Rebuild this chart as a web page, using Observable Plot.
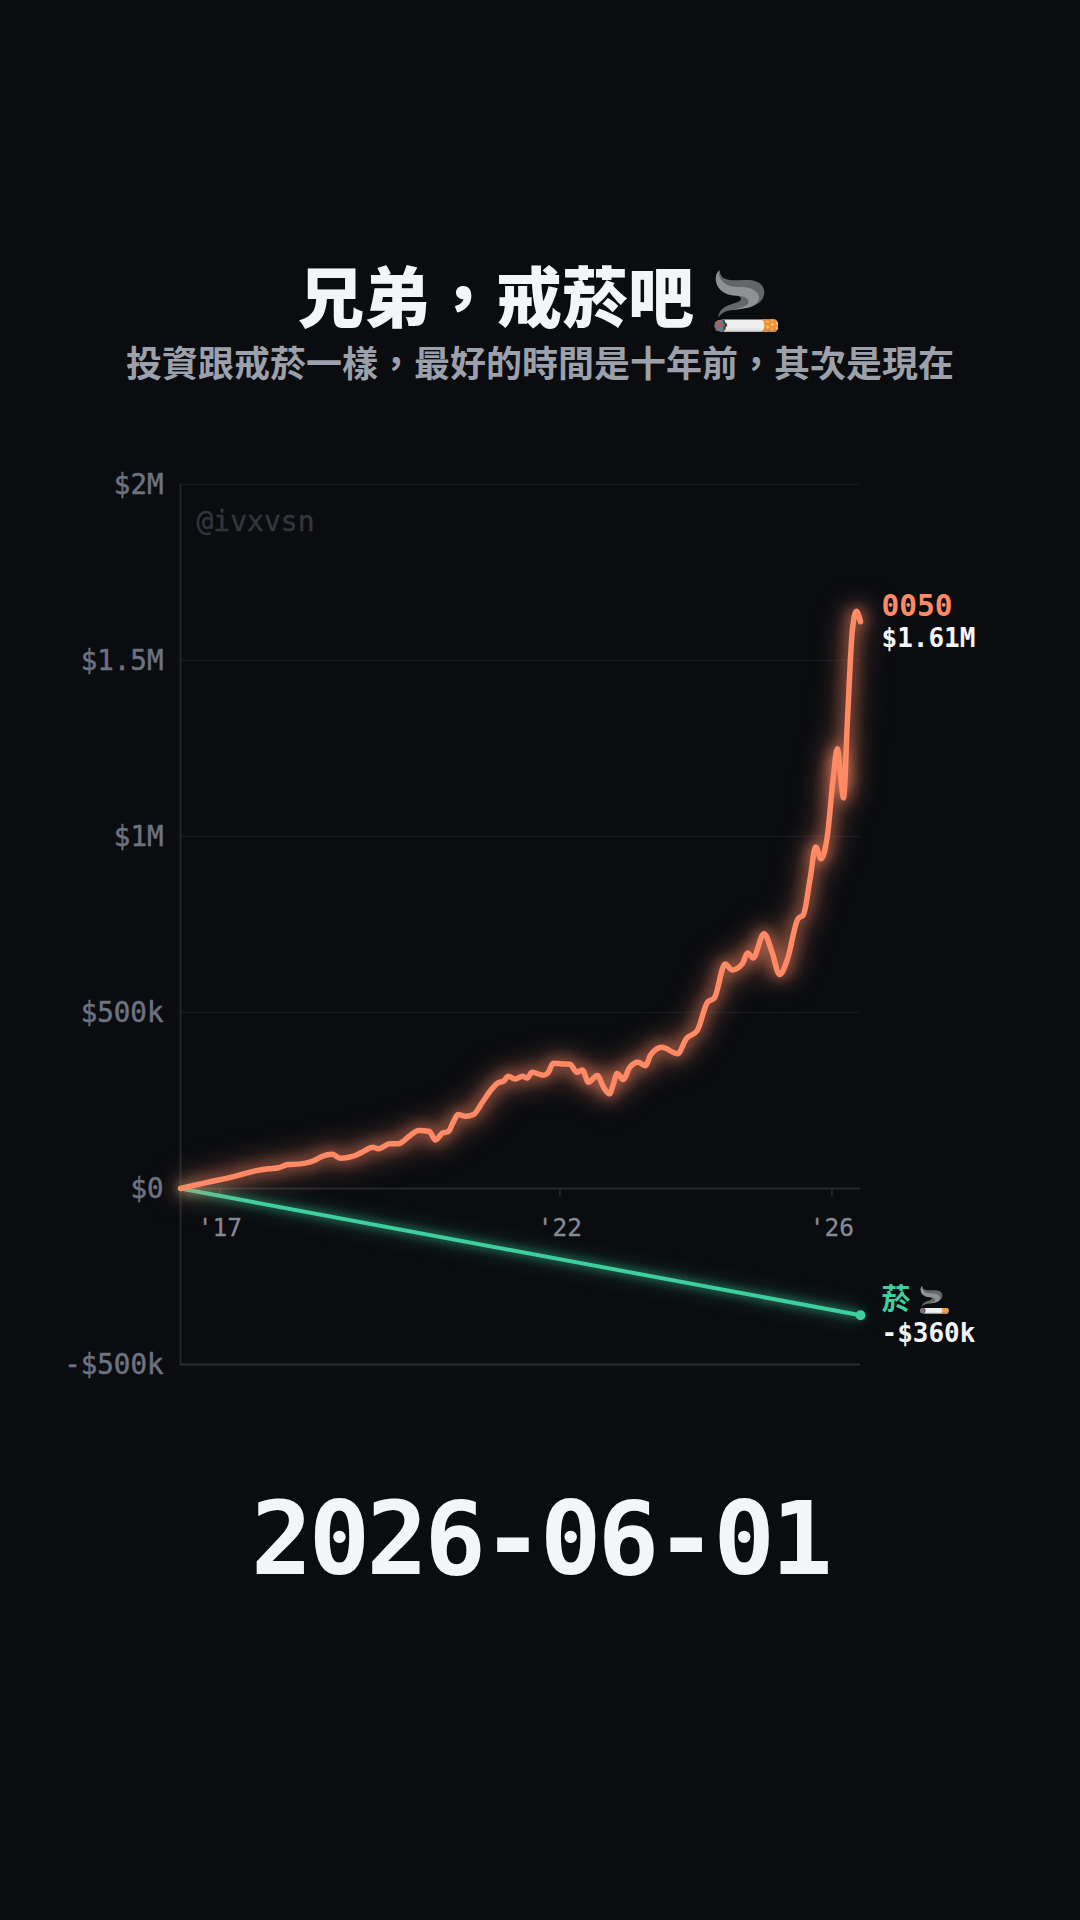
<!DOCTYPE html>
<html lang="zh-Hant">
<head>
<meta charset="utf-8">
<script src="https://cdn.jsdelivr.net/npm/d3@7"></script>
<script src="https://cdn.jsdelivr.net/npm/@observablehq/plot@0.6"></script>
<style>
html,body{margin:0;padding:0;background:#0a0c10;width:1080px;height:1920px;overflow:hidden}
#page{position:relative;width:1080px;height:1920px;font-family:"Noto Sans CJK TC","Noto Sans",sans-serif}
#title,#sub,#date{position:absolute;left:0;width:1080px;text-align:center;white-space:nowrap}
#title{top:244px;font-size:66px;line-height:98px;font-weight:900;color:#f4f5f7}
#title span{font-size:58px;margin-left:16px}
#sub{top:335px;font-size:36px;line-height:52px;font-weight:700;color:#9ca0aa}
#date{top:1479px;font-family:"DejaVu Sans Mono",monospace;font-size:102px;line-height:120px;font-weight:700;letter-spacing:-3.6px;color:#f4f5f7}
#chart{position:absolute;left:0;top:440px}
svg{display:block;background:transparent}
</style>
</head>
<body>
<div id="page">
  <div id="title">兄弟，戒菸吧<span>🚬</span></div>
  <div id="sub">投資跟戒菸一樣，最好的時間是十年前，其次是現在</div>
  <div id="chart"></div>
  <div id="date">2026-06-01</div>
</div>
<script>
const years = [2016.42,2016.83,2017.23,2017.52,2017.71,2017.86,2018.00,2018.18,2018.37,2018.50,2018.65,2018.77,2018.95,2019.09,2019.25,2019.33,2019.50,2019.62,2019.80,2019.92,2020.08,2020.17,2020.27,2020.36,2020.43,2020.50,2020.61,2020.73,2020.86,2021.00,2021.09,2021.17,2021.24,2021.34,2021.45,2021.52,2021.59,2021.76,2021.83,2021.90,2022.03,2022.15,2022.25,2022.33,2022.42,2022.55,2022.64,2022.73,2022.78,2022.84,2022.93,2023.03,2023.15,2023.26,2023.33,2023.50,2023.73,2023.86,2024.02,2024.17,2024.27,2024.43,2024.53,2024.68,2024.76,2024.84,2025.00,2025.12,2025.23,2025.34,2025.50,2025.58,2025.68,2025.76,2025.84,2025.93,2026.02,2026.08,2026.12,2026.17,2026.23,2026.30,2026.36,2026.42];
const etfValues = [0,18,35,50,56,59,68,70,78,91,97,86,91,103,117,113,127,127,151,165,162,138,157,162,188,210,205,210,245,283,300,305,319,311,319,314,330,322,330,356,354,353,330,337,302,321,288,269,293,327,310,345,359,349,378,401,383,426,449,529,541,638,621,638,669,655,724,671,608,648,766,778,881,970,937,998,1168,1249,1188,1110,1339,1585,1640,1610];
const smokeYears = [2016.42,2026.42];
const smokeValues = [0,-360];
const yTicks = [-500,0,500,1000,1500,2000];
const yTickLabels = ["-$500k","$0","$500k","$1M","$1.5M","$2M"];
const xTicks = [2017,2022,2026];
const xTickLabels = ["'17","'22","'26"];
const etfName = "0050", etfLabel = "$1.61M", smokeName = "菸", smokeEmoji = "🚬", smokeLabel = "-$360k", watermark = "@ivxvsn";

const etf = years.map((x,i)=>({x,y:etfValues[i]}));
const smoke = smokeYears.map((x,i)=>({x,y:smokeValues[i]}));
const mono = '"DejaVu Sans Mono",monospace';
const last = etf[etf.length-1], lastS = smoke[smoke.length-1];
const orange = "#ff8a65", green = "#3ecf9e";

const plot = Plot.plot({
  width:1080, height:1000, marginTop:44, marginBottom:76, marginLeft:180, marginRight:220,
  style:{background:"transparent",fontFamily:mono},
  x:{type:"linear",domain:[2016.42,2026.42]},
  y:{type:"linear",domain:[-500,2000]},
  marks:[
    Plot.ruleY([500,1000,1500,2000],{stroke:"#15171c",strokeWidth:1.5}),
    Plot.ruleY([0],{stroke:"#25272d",strokeWidth:2}),
    Plot.ruleY([-500],{stroke:"#2a2c33",strokeWidth:2}),
    Plot.ruleX([2016.42],{stroke:"#22242a",strokeWidth:2}),
    Plot.ruleX(xTicks,{y1:0,y2:-22,stroke:"#2a2c33",strokeWidth:1.5}),
    Plot.axisY({ticks:yTicks,tickFormat:d=>yTickLabels[yTicks.indexOf(d)],tickSize:0,tickPadding:17,label:null,color:"#6d7280",fontSize:27.5,fontFamily:mono,fontWeight:500,dy:1,textStroke:"#6d7280",textStrokeWidth:0.5}),
    Plot.axisX({ticks:[],label:null}),
    Plot.text(xTicks,{x:d=>d,y:()=>0,text:d=>xTickLabels[xTicks.indexOf(d)],dy:40,fill:"#858a96",stroke:"#858a96",strokeWidth:0.3,fontSize:24.5,fontFamily:mono}),
    Plot.text([watermark],{x:()=>2016.42,y:()=>2000,text:d=>d,dx:16,dy:38,textAnchor:"start",fill:"#33353d",stroke:"#33353d",strokeWidth:0.4,fontSize:28,fontFamily:mono}),
    Plot.line(smoke,{x:"x",y:"y",stroke:green,strokeWidth:4,imageFilter:`drop-shadow(0 0 5px ${green}cc) drop-shadow(0 0 10px ${green}66)`}),
    Plot.dot([lastS],{x:"x",y:"y",r:5,fill:green}),
    Plot.line(etf,{x:"x",y:"y",stroke:orange,strokeWidth:5.5,curve:"monotone-x",strokeLinecap:"round",imageFilter:`drop-shadow(0 0 8px ${orange}) drop-shadow(0 0 14px ${orange}99)`}),
    Plot.text([last],{x:"x",y:"y",text:()=>etfName,dx:21,dy:-15,textAnchor:"start",fill:orange,fontSize:29.5,fontWeight:700,fontFamily:mono}),
    Plot.text([last],{x:"x",y:"y",text:()=>etfLabel,dx:21,dy:17,textAnchor:"start",fill:"#f4f5f7",fontSize:26,fontWeight:700,fontFamily:mono}),
    Plot.text([lastS],{x:"x",y:"y",text:()=>smokeName,dx:21,dy:-15,textAnchor:"start",fill:green,fontSize:29,fontWeight:700,fontFamily:'"Noto Sans CJK TC",sans-serif'}),
    Plot.text([lastS],{x:"x",y:"y",text:()=>smokeEmoji,dx:57,dy:-15,textAnchor:"start",fontSize:26,fontFamily:'"Noto Sans CJK TC",sans-serif'}),
    Plot.text([lastS],{x:"x",y:"y",text:()=>smokeLabel,dx:21,dy:18,textAnchor:"start",fill:"#f4f5f7",fontSize:26,fontWeight:700,fontFamily:mono})
  ]
});
document.getElementById("chart").appendChild(plot);
</script>
</body>
</html>
